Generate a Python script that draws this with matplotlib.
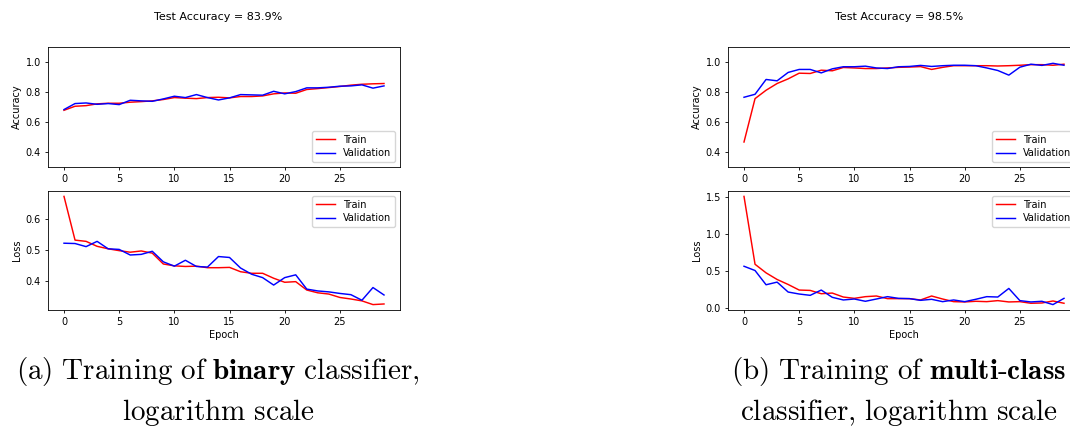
import matplotlib
matplotlib.use("Agg")
import matplotlib.pyplot as plt

plt.rcParams['mathtext.fontset'] = 'cm'
plt.rcParams['font.family'] = ['DejaVu Sans']

epochs = list(range(30))

# Binary classifier
bin_acc_train = [0.677, 0.704, 0.708, 0.720, 0.724, 0.724, 0.731, 0.735, 0.740, 0.749,
                 0.762, 0.758, 0.755, 0.762, 0.764, 0.760, 0.769, 0.769, 0.773, 0.787,
                 0.793, 0.791, 0.816, 0.822, 0.829, 0.836, 0.845, 0.851, 0.854, 0.856]
bin_acc_val = [0.682, 0.722, 0.726, 0.717, 0.722, 0.715, 0.744, 0.740, 0.737, 0.753,
               0.771, 0.762, 0.782, 0.762, 0.746, 0.760, 0.782, 0.780, 0.778, 0.804,
               0.787, 0.802, 0.827, 0.827, 0.831, 0.838, 0.840, 0.847, 0.825, 0.840]
bin_loss_train = [0.674, 0.533, 0.529, 0.513, 0.505, 0.499, 0.494, 0.498, 0.491, 0.456,
                  0.450, 0.448, 0.449, 0.444, 0.444, 0.445, 0.431, 0.426, 0.426, 0.410,
                  0.397, 0.399, 0.372, 0.363, 0.359, 0.348, 0.343, 0.337, 0.325, 0.327]
bin_loss_val = [0.523, 0.522, 0.512, 0.529, 0.505, 0.503, 0.485, 0.487, 0.497, 0.463,
                0.449, 0.468, 0.448, 0.446, 0.480, 0.477, 0.443, 0.423, 0.412, 0.388,
                0.412, 0.421, 0.375, 0.369, 0.366, 0.361, 0.357, 0.339, 0.380, 0.356]

# Multi-class classifier
mc_acc_train = [0.465, 0.755, 0.811, 0.856, 0.887, 0.925, 0.923, 0.945, 0.941, 0.963,
                0.960, 0.956, 0.956, 0.960, 0.964, 0.966, 0.969, 0.950, 0.964, 0.975,
                0.975, 0.975, 0.975, 0.973, 0.975, 0.978, 0.982, 0.982, 0.978, 0.985]
mc_acc_val = [0.764, 0.784, 0.883, 0.874, 0.930, 0.950, 0.950, 0.927, 0.954, 0.968,
              0.968, 0.972, 0.960, 0.956, 0.968, 0.970, 0.977, 0.970, 0.975, 0.978,
              0.978, 0.975, 0.960, 0.943, 0.912, 0.965, 0.985, 0.977, 0.991, 0.978]
mc_loss_train = [1.514, 0.590, 0.473, 0.383, 0.315, 0.239, 0.234, 0.189, 0.198, 0.144,
                 0.126, 0.149, 0.158, 0.122, 0.122, 0.122, 0.104, 0.158, 0.117, 0.081,
                 0.077, 0.086, 0.081, 0.095, 0.077, 0.081, 0.059, 0.063, 0.090, 0.059]
mc_loss_val = [0.563, 0.505, 0.311, 0.347, 0.212, 0.185, 0.167, 0.239, 0.140, 0.104,
               0.117, 0.086, 0.117, 0.149, 0.126, 0.122, 0.099, 0.113, 0.081, 0.104,
               0.081, 0.113, 0.149, 0.144, 0.261, 0.095, 0.077, 0.086, 0.041, 0.126]

titles = ["Test Accuracy = 83.9%", "Test Accuracy = 98.5%"]
captions = [
    [r"$\mathrm{(a)\ Training\ of\ }\mathbf{binary}\mathrm{\ classifier,}$",
     r"$\mathrm{logarithm\ scale}$"],
    [r"$\mathrm{(b)\ Training\ of\ }\mathbf{multi\text{-}class}$",
     r"$\mathrm{classifier{,}\ logarithm\ scale}$"],
]

W, H = 1070, 428
fig = plt.figure(figsize=(W / 100, H / 100), dpi=100)

FS = 7
LW = 1.05

def style(ax):
    for s in ax.spines.values():
        s.set_linewidth(0.6)
    ax.tick_params(labelsize=FS, length=2.5, width=0.6, pad=2.5)

panels = [
    (48, 218, bin_acc_train, bin_acc_val, bin_loss_train, bin_loss_val),
    (728, 899, mc_acc_train, mc_acc_val, mc_loss_train, mc_loss_val),
]

for i, (x0, cx, at, av, lt, lv) in enumerate(panels):
    wpx = 352
    ax1 = fig.add_axes([x0 / W, 1 - 166.7 / H, wpx / W, 119.7 / H])
    ax1.plot(epochs, at, color='red', lw=LW, label='Train')
    ax1.plot(epochs, av, color='blue', lw=LW, label='Validation')
    ax1.set_ylim(0.3, 1.1)
    ax1.set_yticks([0.4, 0.6, 0.8, 1.0])
    ax1.set_xticks([0, 5, 10, 15, 20, 25])
    ax1.set_ylabel('Accuracy', fontsize=FS, labelpad=3)
    ax1.legend(loc='lower right', fontsize=FS, handlelength=2.0, borderpad=0.4,
               labelspacing=0.35, framealpha=0.8)
    style(ax1)

    ax2 = fig.add_axes([x0 / W, 1 - 310 / H, wpx / W, 119 / H])
    ax2.plot(epochs, lt, color='red', lw=LW, label='Train')
    ax2.plot(epochs, lv, color='blue', lw=LW, label='Validation')
    ax2.set_xticks([0, 5, 10, 15, 20, 25])
    ax2.set_ylabel('Loss', fontsize=FS, labelpad=3)
    ax2.set_xlabel('Epoch', fontsize=FS, labelpad=2)
    ax2.legend(loc='upper right', fontsize=FS, handlelength=2.0, borderpad=0.4,
               labelspacing=0.35, framealpha=0.8)
    style(ax2)
    if i == 1:
        ax2.set_yticks([0.0, 0.5, 1.0, 1.5])

    fig.text(cx / W, 1 - 17 / H, titles[i], fontsize=8, ha='center', va='center')
    fig.text(cx / W, 1 - 372 / H, captions[i][0], fontsize=21, ha='center', va='center')
    fig.text(cx / W, 1 - 413 / H, captions[i][1], fontsize=21, ha='center', va='center')

fig.savefig('out.png', dpi=100)
